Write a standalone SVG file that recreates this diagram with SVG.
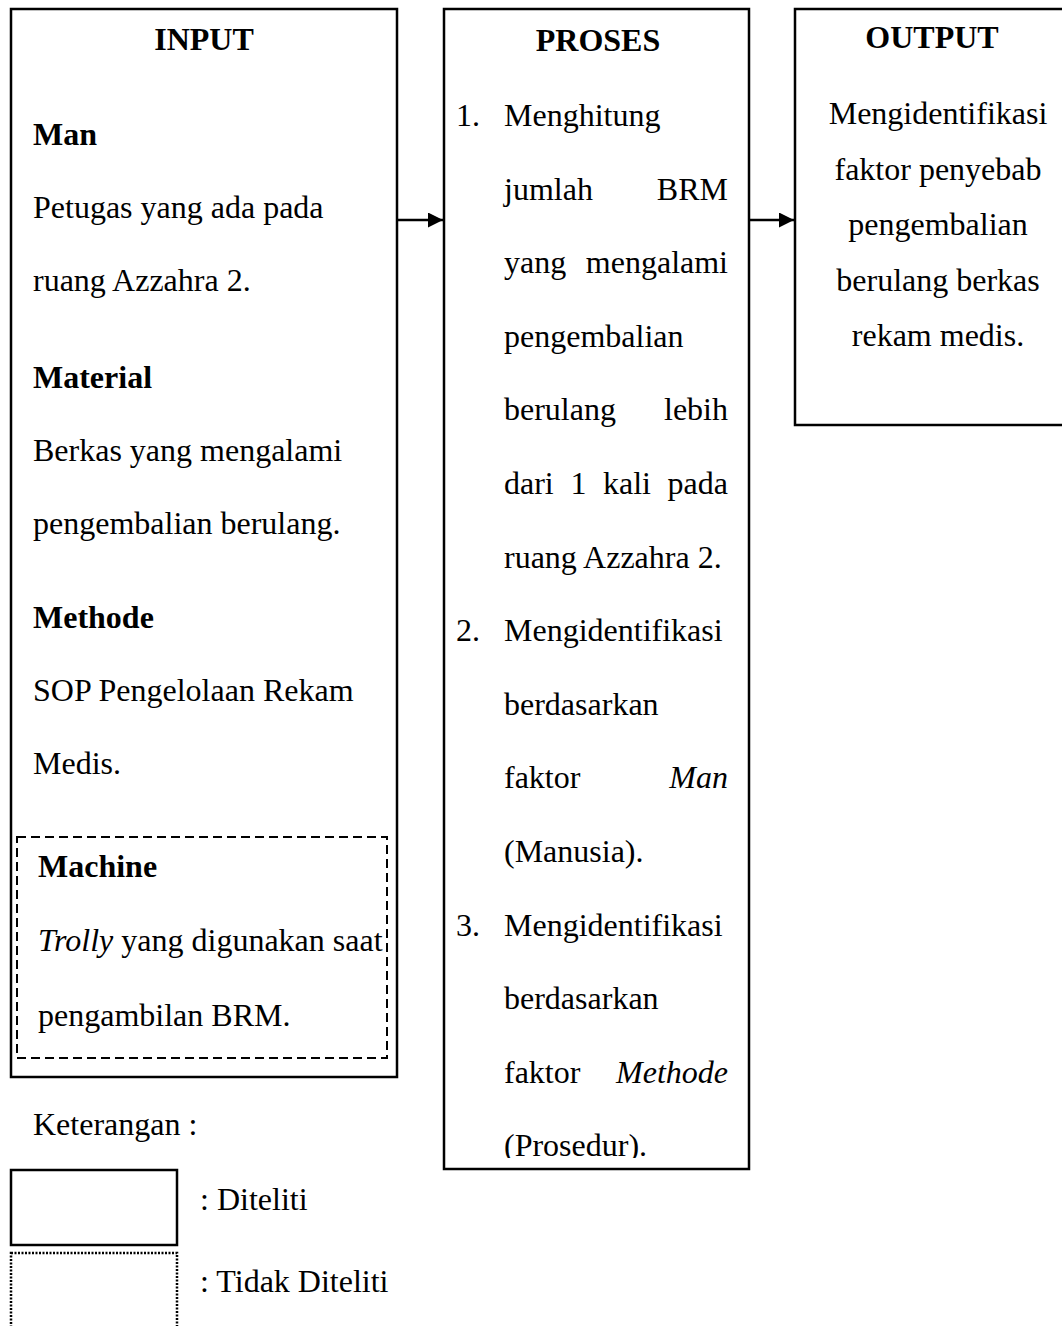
<svg xmlns="http://www.w3.org/2000/svg" width="1062" height="1326" viewBox="0 0 1062 1326">
<style>
text{font-family:"Liberation Serif","Times New Roman",serif;font-size:32px;fill:#000}
.b{font-weight:bold}
.i{font-style:italic}
.m{text-anchor:middle}
.e{text-anchor:end}
.box{fill:#fff;stroke:#000;stroke-width:2.5}
.dash{fill:none;stroke:#000;stroke-width:2;stroke-dasharray:9 5}
.dot{fill:none;stroke:#000;stroke-width:2.5;stroke-dasharray:2 1.5}
.conn{stroke:#000;stroke-width:2.5;fill:none}
</style>
<defs>
<marker id="arr" markerWidth="15" markerHeight="15" refX="15" refY="7.5" orient="auto" markerUnits="userSpaceOnUse" viewBox="0 0 15 15">
<path d="M0,0 L15,7.5 L0,15 z" fill="#000"/>
</marker>
<clipPath id="pclip"><rect x="444" y="9" width="305" height="1149"/></clipPath>
</defs>
<rect width="1062" height="1326" fill="#fff"/>

<g id="input">
<rect class="box" x="11" y="9" width="386" height="1068"/>
<text class="b m" x="204" y="50">INPUT</text>
<text class="b" x="33" y="145">Man</text>
<text x="33" y="218">Petugas yang ada pada</text>
<text x="33" y="291">ruang Azzahra 2.</text>
<text class="b" x="33" y="388">Material</text>
<text x="33" y="461">Berkas yang mengalami</text>
<text x="33" y="534">pengembalian berulang.</text>
<text class="b" x="33" y="628">Methode</text>
<text x="33" y="701">SOP Pengelolaan Rekam</text>
<text x="33" y="774">Medis.</text>
</g>

<g id="machine">
<rect class="dash" x="17" y="837" width="370" height="221"/>
<text class="b" x="38" y="877">Machine</text>
<text x="38" y="951"><tspan class="i">Trolly</tspan> yang digunakan saat</text>
<text x="38" y="1026">pengambilan BRM.</text>
</g>

<g id="proses">
<rect class="box" x="444" y="9" width="305" height="1160"/>
<text class="b m" x="598" y="51">PROSES</text>
<g clip-path="url(#pclip)">
<text x="456" y="126">1.</text>
<text x="504" y="126">Menghitung</text>
<text x="504" y="199.6">jumlah</text><text class="e" x="728" y="199.6">BRM</text>
<text x="504" y="273.2">yang</text><text class="e" x="728" y="273.2">mengalami</text>
<text x="504" y="346.8">pengembalian</text>
<text x="504" y="420.4">berulang</text><text class="e" x="728" y="420.4">lebih</text>
<text x="504" y="494">dari</text><text x="570.4" y="494">1</text><text x="603" y="494">kali</text><text class="e" x="728" y="494">pada</text>
<text x="504" y="567.6">ruang Azzahra 2.</text>
<text x="456" y="641.2">2.</text>
<text x="504" y="641.2">Mengidentifikasi</text>
<text x="504" y="714.8">berdasarkan</text>
<text x="504" y="788.4">faktor</text><text class="e i" x="728" y="788.4">Man</text>
<text x="504" y="862">(Manusia).</text>
<text x="456" y="935.6">3.</text>
<text x="504" y="935.6">Mengidentifikasi</text>
<text x="504" y="1009.2">berdasarkan</text>
<text x="504" y="1082.8">faktor</text><text class="e i" x="728" y="1082.8">Methode</text>
<text x="504" y="1156.4">(Prosedur).</text>
</g>
</g>

<g id="output">
<rect class="box" x="795" y="9" width="270" height="416"/>
<text class="b m" x="932" y="48">OUTPUT</text>
<text class="m" x="938" y="124">Mengidentifikasi</text>
<text class="m" x="938" y="179.5">faktor penyebab</text>
<text class="m" x="938" y="235">pengembalian</text>
<text class="m" x="938" y="290.5">berulang berkas</text>
<text class="m" x="938" y="346">rekam medis.</text>
</g>

<g id="connectors">
<line class="conn" x1="397" y1="220" x2="443" y2="220" marker-end="url(#arr)"/>
<line class="conn" x1="750" y1="220" x2="794" y2="220" marker-end="url(#arr)"/>
</g>

<g id="legend">
<text x="33" y="1135">Keterangan :</text>
<rect class="box" x="11" y="1170" width="166" height="75"/>
<text x="200" y="1210">: Diteliti</text>
<rect class="dot" x="11" y="1253" width="166" height="90"/>
<text x="200" y="1292">: Tidak Diteliti</text>
</g>
</svg>
